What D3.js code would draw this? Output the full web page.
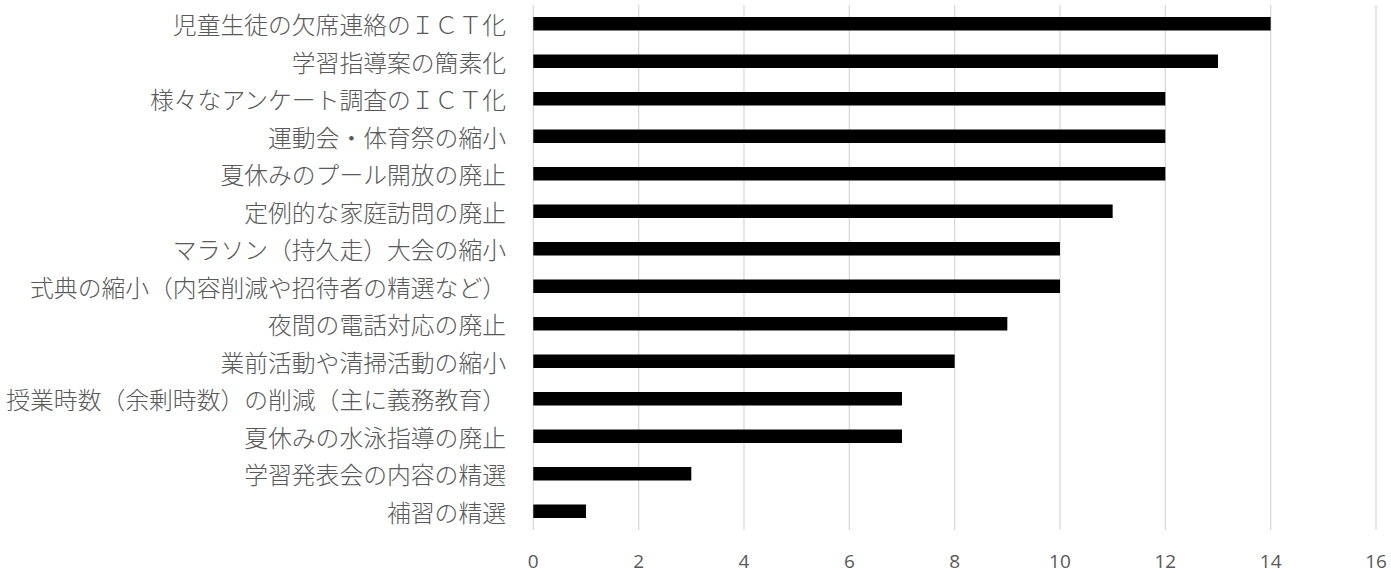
<!DOCTYPE html>
<html><head><meta charset="utf-8">
<script src="https://cdn.jsdelivr.net/npm/d3@7/dist/d3.min.js"></script>
<style>body{margin:0;background:#fff;}svg{display:block;}</style>
</head><body>
<svg id="c" width="1391" height="573"></svg>
<script>
const categories = [
  "児童生徒の欠席連絡のＩＣＴ化",
  "学習指導案の簡素化",
  "様々なアンケート調査のＩＣＴ化",
  "運動会・体育祭の縮小",
  "夏休みのプール開放の廃止",
  "定例的な家庭訪問の廃止",
  "マラソン（持久走）大会の縮小",
  "式典の縮小（内容削減や招待者の精選など）",
  "夜間の電話対応の廃止",
  "業前活動や清掃活動の縮小",
  "授業時数（余剰時数）の削減（主に義務教育）",
  "夏休みの水泳指導の廃止",
  "学習発表会の内容の精選",
  "補習の精選"
];
const values = [14, 13, 12, 12, 12, 11, 10, 10, 9, 8, 7, 7, 3, 1];
const xTicks = [0, 2, 4, 6, 8, 10, 12, 14, 16];

const svg = d3.select("#c");
const pL = 533.3, pR = 1376, pT = 5, pB = 530;
const x = d3.scaleLinear().domain([0, 16]).range([pL, pR]);
const y = d3.scaleBand().domain(categories).range([pT, pB]).paddingInner(0.64).paddingOuter(0.32);

// gridlines
svg.append("g").selectAll("line").data(xTicks).join("line")
  .attr("x1", d => x(d)).attr("x2", d => x(d))
  .attr("y1", pT).attr("y2", pB)
  .attr("stroke", "#d9d9d9").attr("stroke-width", 1.3);

// bars
svg.append("g").selectAll("rect").data(values).join("rect")
  .attr("x", x(0)).attr("y", (d, i) => y(categories[i]))
  .attr("width", d => x(d) - x(0)).attr("height", y.bandwidth())
  .attr("fill", "#000");

// category labels
svg.append("g").selectAll("text").data(categories).join("text")
  .attr("x", 506).attr("y", d => y(d) + y.bandwidth() / 2)
  .attr("text-anchor", "end").attr("dominant-baseline", "central")
  .attr("font-family", "'Noto Sans CJK JP', sans-serif").attr("font-weight", 300)
  .attr("font-size", 23.8).attr("fill", "#595959")
  .text(d => d);

// x tick labels
svg.append("g").selectAll("text").data(xTicks).join("text")
  .attr("x", d => x(d)).attr("y", 567.5)
  .attr("text-anchor", "middle")
  .attr("font-family", "'Open Sans', 'Noto Sans', sans-serif")
  .attr("font-size", 19).attr("fill", "#595959")
  .text(d => d);
</script>
</body></html>
